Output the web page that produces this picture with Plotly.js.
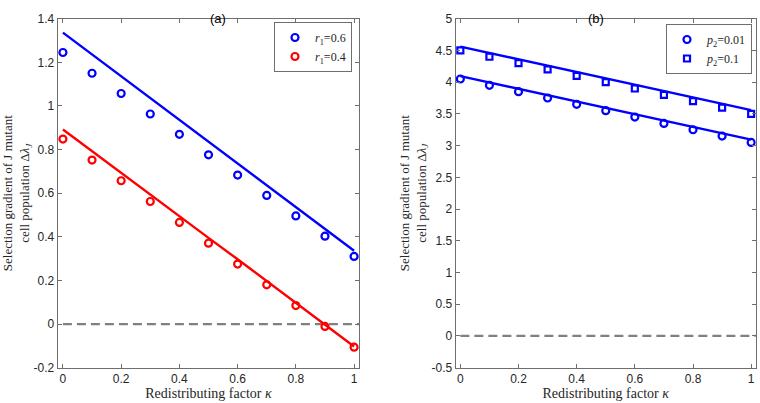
<!DOCTYPE html>
<html>
<head>
<meta charset="utf-8">
<script src="https://cdn.plot.ly/plotly-3.0.1.min.js"></script>
<style>
  html, body { margin: 0; padding: 0; background: #fff; }
  #plot { width: 760px; height: 403px; }
</style>
</head>
<body>
<div id="plot"></div>
<script>
// redistributing factor kappa
let kappa = [0, 0.1, 0.2, 0.3, 0.4, 0.5, 0.6, 0.7, 0.8, 0.9, 1];

// panel (a): simulation points and analytical lines
let r06Sim = [1.245, 1.150, 1.057, 0.963, 0.870, 0.776, 0.683, 0.590, 0.496, 0.403, 0.310];
let r04Sim = [0.848, 0.752, 0.657, 0.562, 0.466, 0.371, 0.275, 0.180, 0.085, -0.011, -0.106];
let r06Line = [1.336, 1.236, 1.136, 1.036, 0.936, 0.837, 0.737, 0.637, 0.537, 0.437, 0.336];
let r04Line = [0.892, 0.792, 0.693, 0.594, 0.495, 0.395, 0.297, 0.198, 0.099, 0.000, -0.103];

// panel (b)
let p001Sim = [4.05, 3.95, 3.85, 3.75, 3.65, 3.55, 3.45, 3.35, 3.25, 3.15, 3.05];
let p01Sim = [4.50, 4.40, 4.30, 4.20, 4.10, 4.00, 3.90, 3.80, 3.70, 3.60, 3.50];
let p001Line = [4.095, 3.995, 3.895, 3.795, 3.695, 3.595, 3.495, 3.395, 3.295, 3.195, 3.095];
let p01Line = [4.56, 4.46, 4.36, 4.26, 4.16, 4.06, 3.96, 3.86, 3.76, 3.66, 3.56];

let xTicks = [0, 0.2, 0.4, 0.6, 0.8, 1];
let xTickText = ['0', '0.2', '0.4', '0.6', '0.8', '1'];
let yTicksA = [-0.2, 0, 0.2, 0.4, 0.6, 0.8, 1, 1.2, 1.4];
let yTickTextA = ['-0.2', '0', '0.2', '0.4', '0.6', '0.8', '1', '1.2', '1.4'];
let yTicksB = [-0.5, 0, 0.5, 1, 1.5, 2, 2.5, 3, 3.5, 4, 4.5, 5];
let yTickTextB = ['-0.5', '0', '0.5', '1', '1.5', '2', '2.5', '3', '3.5', '4', '4.5', '5'];

let blue = '#0000ff';
let red = '#ff0000';
let xRangeA = [-0.018, 1.018];
let xRangeB = [-0.016, 1.016];

let serif = 'Liberation Serif';
let sans = 'Liberation Sans';

function simTrace(y, color, symbol, name, xa, ya, legend) {
    return {
        x: kappa, y: y, xaxis: xa, yaxis: ya, name: name, legend: legend,
        mode: 'markers', type: 'scatter',
        marker: {symbol: symbol, size: symbol == 'circle-open' ? 7 : 6, color: color, line: {width: 2.2, color: color}}
    };
}

function lineTrace(y, color, xa, ya) {
    return {
        x: kappa, y: y, xaxis: xa, yaxis: ya, mode: 'lines', type: 'scatter',
        line: {color: color, width: 2.4}, showlegend: false, hoverinfo: 'skip'
    };
}

function zeroTrace(range, xa, ya) {
    return {
        x: [0, range[1]], y: [0, 0], xaxis: xa, yaxis: ya, mode: 'lines', type: 'scatter',
        line: {color: '#808080', width: 2.2, dash: '9px,5px'}, showlegend: false, hoverinfo: 'skip'
    };
}

let data = [
    zeroTrace(xRangeA, 'x', 'y'),
    lineTrace(r06Line, blue, 'x', 'y'),
    lineTrace(r04Line, red, 'x', 'y'),
    simTrace(r06Sim, blue, 'circle-open', '<i>r</i><sub>1</sub>=0.6', 'x', 'y', 'legend'),
    simTrace(r04Sim, red, 'circle-open', '<i>r</i><sub>1</sub>=0.4', 'x', 'y', 'legend'),
    zeroTrace(xRangeB, 'x2', 'y2'),
    lineTrace(p001Line, blue, 'x2', 'y2'),
    lineTrace(p01Line, blue, 'x2', 'y2'),
    simTrace(p001Sim, blue, 'circle-open', '<i>p</i><sub>2</sub>=0.01', 'x2', 'y2', 'legend2'),
    simTrace(p01Sim, blue, 'square-open', '<i>p</i><sub>2</sub>=0.1', 'x2', 'y2', 'legend2')
];

function axis(extra) {
    let a = {
        showline: true, linecolor: '#6e6e6e', linewidth: 1, mirror: 'ticks',
        ticks: 'inside', ticklen: 4, tickcolor: '#6e6e6e', tickwidth: 1,
        showgrid: false, zeroline: false, automargin: false,
        tickfont: {family: sans, size: 12, color: '#262626'}
    };
    return Object.assign(a, extra);
}

let yTitle = 'Selection gradient of J mutant<br>cell population Δ<i>λ<sub>J</sub></i>';
let xTitle = 'Redistributing factor <i>κ</i>';

function titleFont(size) {
    return {family: serif, size: size, color: '#262626'};
}

function legendStyle(x, y) {
    return {
        x: x, y: y,
        bgcolor: '#ffffff', bordercolor: '#6e6e6e', borderwidth: 1,
        font: {family: serif, size: 12, color: '#262626'},
        xanchor: 'right', yanchor: 'top', tracegroupgap: 0, itemwidth: 30
    };
}

let layout = {
    width: 760, height: 403,
    margin: {l: 0, r: 0, t: 0, b: 0},
    paper_bgcolor: '#ffffff', plot_bgcolor: '#ffffff',
    showlegend: true,
    xaxis: axis({domain: [0.0759, 0.4728], range: xRangeA, tickvals: xTicks, ticktext: xTickText,
        anchor: 'y', title: {text: xTitle, font: titleFont(14), standoff: 1}}),
    yaxis: axis({domain: [0.0876, 0.9536], range: [-0.2, 1.4], tickvals: yTicksA, ticktext: yTickTextA,
        anchor: 'x', title: {text: yTitle, font: titleFont(13), standoff: 2}}),
    xaxis2: axis({domain: [0.5996, 0.9945], range: xRangeB, tickvals: xTicks, ticktext: xTickText,
        anchor: 'y2', title: {text: xTitle, font: titleFont(14), standoff: 1}}),
    yaxis2: axis({domain: [0.0876, 0.9536], range: [-0.5, 5], tickvals: yTicksB, ticktext: yTickTextB,
        anchor: 'x2', title: {text: yTitle, font: titleFont(13), standoff: 2}}),
    legend: legendStyle(352 / 760, 1 - 22 / 403),
    legend2: legendStyle(752 / 760, 1 - 24 / 403),
    annotations: [
        {text: '(a)', x: 208 / 760, y: 1 - 9 / 403, xref: 'paper', yref: 'paper', showarrow: false,
            font: {family: sans, size: 13, color: '#000000'}},
        {text: '(b)', x: 606 / 760, y: 1 - 9 / 403, xref: 'paper', yref: 'paper', showarrow: false,
            font: {family: sans, size: 13, color: '#000000'}}
    ]
};

Plotly.newPlot('plot', data, layout, {staticPlot: true});
</script>
</body>
</html>
